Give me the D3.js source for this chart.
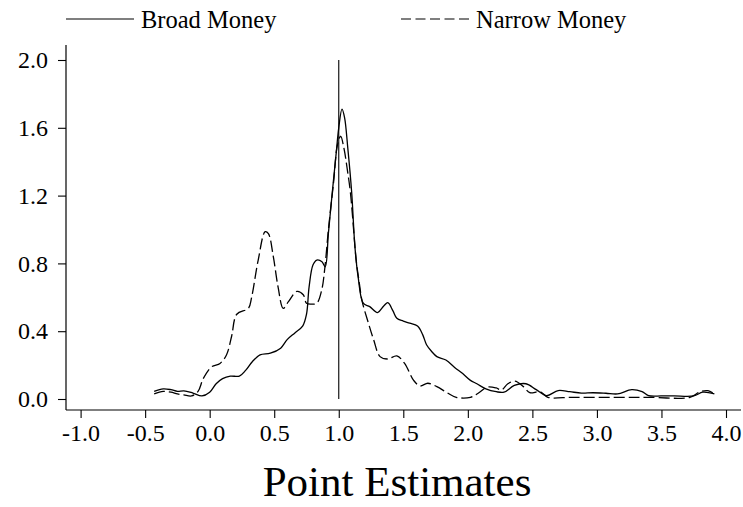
<!DOCTYPE html>
<html>
<head>
<meta charset="utf-8">
<script src="https://cdn.jsdelivr.net/npm/d3@7"></script>
<style>
  body { margin: 0; background: #fff; }
  text { font-family: "Liberation Serif", "Times New Roman", serif; fill: #000; }
</style>
</head>
<body>
<div id="chart"></div>
<script>
// density estimates
const broadX = [-0.43, -0.36, -0.30, -0.25, -0.20, -0.13, -0.06, 0.00, 0.05, 0.10, 0.16, 0.23, 0.28, 0.33, 0.39, 0.47, 0.55, 0.60, 0.66, 0.72, 0.75, 0.77, 0.80, 0.83, 0.87, 0.895, 0.92, 0.95, 0.98, 1.00, 1.025, 1.045, 1.07, 1.10, 1.125, 1.15, 1.19, 1.24, 1.30, 1.35, 1.38, 1.42, 1.45, 1.50, 1.55, 1.61, 1.65, 1.68, 1.72, 1.76, 1.83, 1.90, 1.96, 2.02, 2.07, 2.14, 2.22, 2.28, 2.36, 2.45, 2.53, 2.61, 2.70, 2.79, 2.88, 2.97, 3.07, 3.16, 3.27, 3.35, 3.40, 3.50, 3.60, 3.75, 3.82, 3.91];
const broadY = [0.045, 0.06, 0.055, 0.045, 0.048, 0.035, 0.018, 0.04, 0.09, 0.12, 0.135, 0.135, 0.17, 0.22, 0.26, 0.27, 0.30, 0.35, 0.39, 0.43, 0.50, 0.66, 0.79, 0.82, 0.81, 0.78, 0.98, 1.22, 1.45, 1.60, 1.71, 1.66, 1.48, 1.22, 0.90, 0.72, 0.565, 0.545, 0.51, 0.55, 0.568, 0.52, 0.476, 0.46, 0.447, 0.43, 0.38, 0.32, 0.28, 0.25, 0.23, 0.185, 0.15, 0.11, 0.09, 0.06, 0.043, 0.04, 0.08, 0.09, 0.055, 0.02, 0.05, 0.043, 0.035, 0.037, 0.034, 0.03, 0.055, 0.043, 0.02, 0.018, 0.018, 0.018, 0.04, 0.03];

const narrowX = [-0.43, -0.36, -0.30, -0.25, -0.20, -0.14, -0.09, -0.05, 0.015, 0.08, 0.13, 0.17, 0.21, 0.30, 0.325, 0.376, 0.43, 0.455, 0.493, 0.53, 0.57, 0.61, 0.675, 0.725, 0.75, 0.79, 0.83, 0.868, 0.893, 0.92, 0.96, 0.99, 1.015, 1.04, 1.065, 1.09, 1.115, 1.135, 1.16, 1.18, 1.23, 1.27, 1.32, 1.38, 1.45, 1.51, 1.58, 1.63, 1.69, 1.76, 1.84, 1.91, 2.02, 2.08, 2.15, 2.22, 2.26, 2.31, 2.365, 2.43, 2.48, 2.56, 2.62, 2.80, 3.00, 3.20, 3.40, 3.72, 3.80, 3.86, 3.91];
const narrowY = [0.03, 0.045, 0.04, 0.03, 0.024, 0.018, 0.045, 0.12, 0.19, 0.21, 0.26, 0.37, 0.50, 0.535, 0.60, 0.82, 0.987, 0.975, 0.84, 0.66, 0.535, 0.574, 0.635, 0.615, 0.565, 0.56, 0.565, 0.643, 0.78, 1.0, 1.28, 1.50, 1.55, 1.48, 1.36, 1.22, 1.0, 0.82, 0.68, 0.58, 0.447, 0.35, 0.25, 0.236, 0.254, 0.21, 0.11, 0.077, 0.093, 0.073, 0.037, 0.01, 0.01, 0.034, 0.07, 0.065, 0.053, 0.09, 0.105, 0.073, 0.037, 0.043, 0.01, 0.01, 0.01, 0.01, 0.01, 0.01, 0.043, 0.049, 0.03];

const xTicks = [-1.0, -0.5, 0.0, 0.5, 1.0, 1.5, 2.0, 2.5, 3.0, 3.5, 4.0];
const yTicks = [0.0, 0.4, 0.8, 1.2, 1.6, 2.0];
const refLine = 1.0;

const width = 743, height = 507;

const svg = d3.select("#chart").append("svg")
  .attr("width", width)
  .attr("height", height);

let x = d3.scaleLinear().domain([-1, 4]).range([80.6, 726]);
let y = d3.scaleLinear().domain([0, 2]).range([399, 60]);

// axis lines
svg.append("line")
  .attr("x1", 66).attr("x2", 66).attr("y1", 45).attr("y2", 410)
  .attr("stroke", "#000").attr("stroke-width", 1.2);
svg.append("line")
  .attr("x1", 66).attr("x2", 741).attr("y1", 410).attr("y2", 410)
  .attr("stroke", "#000").attr("stroke-width", 1.2);

const yAxis = svg.append("g")
  .attr("transform", "translate(66,0)")
  .call(d3.axisLeft(y).tickValues(yTicks).tickFormat(d => d.toFixed(1)).tickSize(8).tickPadding(10));
yAxis.select(".domain").remove();

const xAxis = svg.append("g")
  .attr("transform", "translate(0,410)")
  .call(d3.axisBottom(x).tickValues(xTicks).tickFormat(d => d.toFixed(1)).tickSize(8).tickPadding(6));
xAxis.select(".domain").remove();

svg.selectAll(".tick line").attr("stroke", "#000").attr("stroke-width", 1.1);
svg.selectAll(".tick text").style("font-size", "24px").style("font-family", "'Liberation Serif', serif");

// reference line at 1
svg.append("line")
  .attr("x1", x(refLine)).attr("x2", x(refLine))
  .attr("y1", y(2)).attr("y2", y(0))
  .attr("stroke", "#000").attr("stroke-width", 1.1);

const line = d3.line()
  .x(d => x(d[0]))
  .y(d => y(d[1]))
  .curve(d3.curveCatmullRom);

svg.append("path")
  .datum(d3.zip(broadX, broadY))
  .attr("d", line)
  .attr("fill", "none")
  .attr("stroke", "#000")
  .attr("stroke-width", 1.3);

svg.append("path")
  .datum(d3.zip(narrowX, narrowY))
  .attr("d", line)
  .attr("fill", "none")
  .attr("stroke", "#000")
  .attr("stroke-width", 1.3)
  .attr("stroke-dasharray", "11,4");

// legend
svg.append("line")
  .attr("x1", 66).attr("x2", 134).attr("y1", 19).attr("y2", 19)
  .attr("stroke", "#000").attr("stroke-width", 1.1);
svg.append("text")
  .attr("x", 141).attr("y", 28)
  .style("font-size", "24.5px")
  .text("Broad Money");
svg.append("line")
  .attr("x1", 401).attr("x2", 470).attr("y1", 19).attr("y2", 19)
  .attr("stroke", "#000").attr("stroke-width", 1.1)
  .attr("stroke-dasharray", "10,4.5");
svg.append("text")
  .attr("x", 476).attr("y", 28)
  .style("font-size", "24.5px")
  .text("Narrow Money");

// axis title
svg.append("text")
  .attr("x", 397).attr("y", 496)
  .attr("text-anchor", "middle")
  .style("font-size", "43px")
  .text("Point Estimates");
</script>
</body>
</html>
